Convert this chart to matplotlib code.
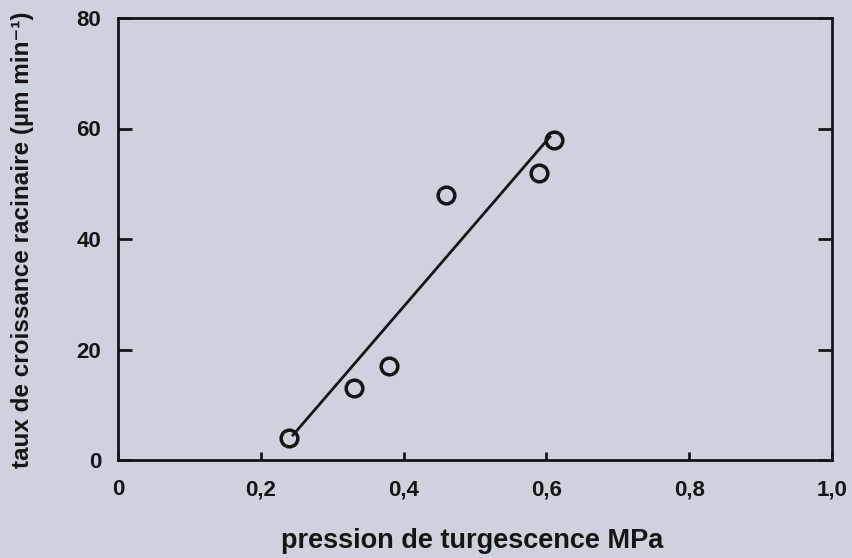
import matplotlib
matplotlib.use("Agg")
import matplotlib.pyplot as plt
import numpy as np

plt.rcParams['font.family'] = ['Liberation Sans', 'DejaVu Sans']

pression = [0.24, 0.33, 0.38, 0.46, 0.59, 0.61]
taux = [4.0, 13.0, 17.0, 48.0, 52.0, 58.0]
fit_x = [0.245, 0.605]
fit_y = [4.5, 58.5]

xticks = [0, 0.2, 0.4, 0.6, 0.8, 1.0]
xlabels = ['0', '0,2', '0,4', '0,6', '0,8', '1,0']
yticks = [0, 20, 40, 60, 80]
ylabels = ['0', '20', '40', '60', '80']

bg = '#cdd2dc'
ink = '#151515'

L, R, T, B = 118, 832, 18, 460
fig = plt.figure(figsize=(8.52, 5.58), dpi=100, facecolor=bg)
ax = fig.add_axes([L/852, 1 - B/558, (R-L)/852, (B-T)/558])
ax.set_facecolor(bg)

ax.plot(fit_x, fit_y, color=ink, lw=2.0, zorder=2)
ax.plot(pression, taux, 'o', ms=12, mfc='none', mec=ink, mew=2.5, zorder=3)

ax.set_xlim(0, 1.0)
ax.set_ylim(0, 80)
ax.set_xticks(xticks)
ax.set_xticklabels(xlabels)
ax.set_yticks(yticks)
ax.set_yticklabels(ylabels)

for s in ax.spines.values():
    s.set_linewidth(2.0)
    s.set_color(ink)

ax.tick_params(axis='both', direction='in', length=10, width=2, colors=ink,
               labelsize=16, pad=12)
ax.tick_params(axis='y', right=True, labelright=False)
ax.tick_params(axis='x', length=6, pad=14)
for lab in ax.get_xticklabels() + ax.get_yticklabels():
    lab.set_fontweight('bold')
    lab.set_color(ink)

ax.set_xlabel('pression de turgescence MPa', fontsize=19.5, fontweight='bold',
              color=ink)
ax.xaxis.set_label_coords((472 - L) / (R - L), (B - 528) / (B - T))
ax.set_ylabel('taux de croissance racinaire (µm min⁻¹)', fontsize=17.5,
              fontweight='bold', color=ink)
ax.yaxis.set_label_coords((34 - L) / (R - L), (B - 240) / (B - T))

fig.savefig('out.png', dpi=100, facecolor=bg)
